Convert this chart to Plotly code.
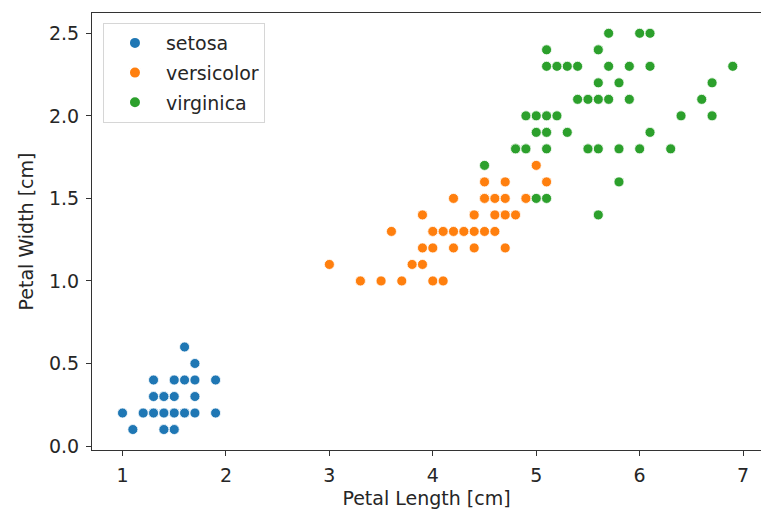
import plotly.graph_objects as go

species = ["setosa", "versicolor", "virginica"]
colors = ["#1f77b4", "#ff7f0e", "#2ca02c"]

setosa_length = [1.4, 1.4, 1.3, 1.5, 1.4, 1.7, 1.4, 1.5, 1.4, 1.5, 1.5, 1.6, 1.4, 1.1, 1.2, 1.5, 1.3, 1.4, 1.7, 1.5,
                 1.7, 1.5, 1.0, 1.7, 1.9, 1.6, 1.6, 1.5, 1.4, 1.6, 1.6, 1.5, 1.5, 1.4, 1.5, 1.2, 1.3, 1.4, 1.3, 1.5,
                 1.3, 1.3, 1.3, 1.6, 1.9, 1.4, 1.6, 1.5, 1.4, 1.4]
setosa_width = [0.2, 0.2, 0.2, 0.2, 0.2, 0.4, 0.3, 0.2, 0.2, 0.1, 0.2, 0.2, 0.1, 0.1, 0.2, 0.4, 0.4, 0.3, 0.3, 0.3,
                0.2, 0.4, 0.2, 0.5, 0.2, 0.2, 0.4, 0.2, 0.2, 0.2, 0.2, 0.4, 0.1, 0.2, 0.2, 0.2, 0.2, 0.1, 0.2, 0.2,
                0.3, 0.3, 0.2, 0.6, 0.4, 0.3, 0.2, 0.2, 0.2, 0.2]

versicolor_length = [4.7, 4.5, 4.9, 4.0, 4.6, 4.5, 4.7, 3.3, 4.6, 3.9, 3.5, 4.2, 4.0, 4.7, 3.6, 4.4, 4.5, 4.1, 4.5, 3.9,
                     4.8, 4.0, 4.9, 4.7, 4.3, 4.4, 4.8, 5.0, 4.5, 3.5, 3.8, 3.7, 3.9, 5.1, 4.5, 4.5, 4.7, 4.4, 4.1, 4.0,
                     4.4, 4.6, 4.0, 3.3, 4.2, 4.2, 4.2, 4.3, 3.0, 4.1]
versicolor_width = [1.4, 1.5, 1.5, 1.3, 1.5, 1.3, 1.6, 1.0, 1.3, 1.4, 1.0, 1.5, 1.0, 1.4, 1.3, 1.4, 1.5, 1.0, 1.5, 1.1,
                    1.8, 1.3, 1.5, 1.2, 1.3, 1.4, 1.4, 1.7, 1.5, 1.0, 1.1, 1.0, 1.2, 1.6, 1.5, 1.6, 1.5, 1.3, 1.3, 1.3,
                    1.2, 1.4, 1.2, 1.0, 1.3, 1.2, 1.3, 1.3, 1.1, 1.3]

virginica_length = [6.0, 5.1, 5.9, 5.6, 5.8, 6.6, 4.5, 6.3, 5.8, 6.1, 5.1, 5.3, 5.5, 5.0, 5.1, 5.3, 5.5, 6.7, 6.9, 5.0,
                    5.7, 4.9, 6.7, 4.9, 5.7, 6.0, 4.8, 4.9, 5.6, 5.8, 6.1, 6.4, 5.6, 5.1, 5.6, 6.1, 5.6, 5.5, 4.8, 5.4,
                    5.6, 5.1, 5.1, 5.9, 5.7, 5.2, 5.0, 5.2, 5.4, 5.1]
virginica_width = [2.5, 1.9, 2.1, 1.8, 2.2, 2.1, 1.7, 1.8, 1.8, 2.5, 2.0, 1.9, 2.1, 2.0, 2.4, 2.3, 1.8, 2.2, 2.3, 1.5,
                   2.3, 2.0, 2.0, 1.8, 2.1, 1.8, 1.8, 1.8, 2.1, 1.6, 1.9, 2.0, 2.2, 1.5, 1.4, 2.3, 2.4, 1.8, 1.8, 2.1,
                   2.4, 2.3, 1.9, 2.3, 2.5, 2.3, 1.9, 2.0, 2.3, 1.8]

x_ticks = [1, 2, 3, 4, 5, 6, 7]
y_ticks = [0.0, 0.5, 1.0, 1.5, 2.0, 2.5]
y_tick_labels = ["0.0", "0.5", "1.0", "1.5", "2.0", "2.5"]

data = [(setosa_length, setosa_width), (versicolor_length, versicolor_width), (virginica_length, virginica_width)]

fig = go.Figure()
for name, color, (xs, ys) in zip(species, colors, data):
    fig.add_trace(go.Scatter(
        x=xs, y=ys, mode="markers", name=name, legendgroup=name,
        marker=dict(color=color, size=10, line=dict(color="white", width=0.8)),
    ))

font = dict(family="DejaVu Sans", size=19, color="#262626")
fig.update_layout(
    width=761, height=515,
    margin=dict(l=92, r=0, t=13, b=65, autoexpand=False),
    paper_bgcolor="white", plot_bgcolor="white",
    font=font,
    showlegend=True,
    legend=dict(
        x=0.0164, y=0.977, xanchor="left", yanchor="top",
        bgcolor="rgba(255,255,255,0.8)", bordercolor="#d6d6d6", borderwidth=1,
        font=font,
        tracegroupgap=2, itemsizing="constant", itemwidth=52,
    ),
    xaxis=dict(
        range=[0.705, 7.173], tickvals=x_ticks, ticktext=[str(t) for t in x_ticks],
        showgrid=False, zeroline=False, showline=True, mirror=True, linecolor="#333333", linewidth=1.2,
        ticks="outside", ticklen=5, tickcolor="#333333", tickwidth=1, automargin=False,
        ticklabelstandoff=3,
        title=dict(text="Petal Length [cm]", standoff=6, font=font),
    ),
    yaxis=dict(
        range=[-0.024, 2.623], tickvals=y_ticks, ticktext=y_tick_labels,
        showgrid=False, zeroline=False, showline=True, mirror=False, linecolor="#333333", linewidth=1.2,
        ticks="outside", ticklen=5, tickcolor="#333333", tickwidth=1, automargin=False,
        ticklabelstandoff=3,
        title=dict(text="Petal Width [cm]", standoff=10, font=font),
    ),
)

fig.write_html("out.html", config={"displayModeBar": False},
               post_script="document.body.style.margin='0';document.body.style.overflow='hidden';")
